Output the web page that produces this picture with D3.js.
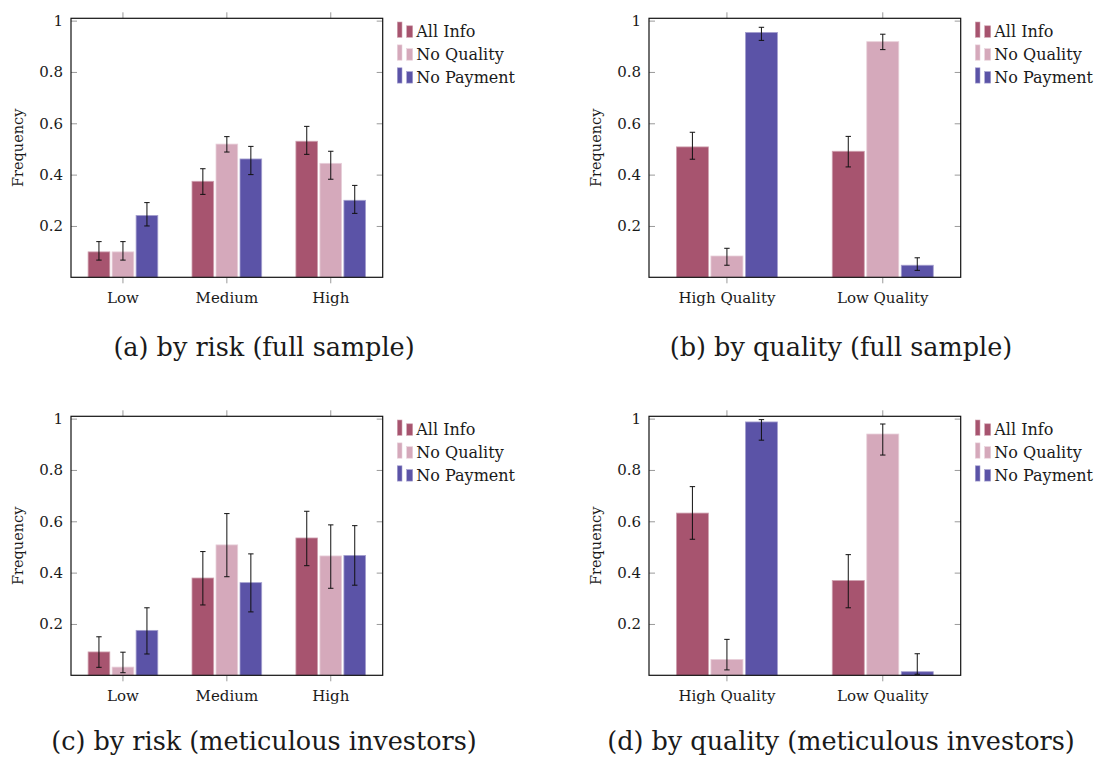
<!DOCTYPE html>
<html>
<head>
<meta charset="utf-8">
<script src="https://cdn.jsdelivr.net/npm/d3@7"></script>
<style>
  body { margin: 0; background: #fff; }
  text { font-family: "DejaVu Serif", serif; fill: #1a1a1a; }
</style>
</head>
<body>
<svg id="chart" width="1097" height="758"></svg>
<script>
const series = ["All Info", "No Quality", "No Payment"];
const seriesColors = ["#a7546f", "#d5a9bb", "#5b53a7"];

const riskCats = ["Low", "Medium", "High"];
const qualityCats = ["High Quality", "Low Quality"];
const yTicks = [0.2, 0.4, 0.6, 0.8, 1];

// rows = categories, columns = All Info / No Quality / No Payment
const riskFullMean = [[0.099, 0.099, 0.241], [0.374, 0.519, 0.461], [0.530, 0.444, 0.300]];
const riskFullLo   = [[0.067, 0.067, 0.200], [0.323, 0.488, 0.400], [0.479, 0.382, 0.249]];
const riskFullHi   = [[0.139, 0.139, 0.291], [0.423, 0.548, 0.510], [0.588, 0.491, 0.358]];

const qualFullMean = [[0.508, 0.083, 0.954], [0.491, 0.918, 0.047]];
const qualFullLo   = [[0.460, 0.047, 0.923], [0.430, 0.887, 0.027]];
const qualFullHi   = [[0.565, 0.113, 0.974], [0.549, 0.947, 0.076]];

const riskMetMean = [[0.091, 0.032, 0.175], [0.379, 0.508, 0.361], [0.535, 0.465, 0.467]];
const riskMetLo   = [[0.031, 0.010, 0.083], [0.274, 0.384, 0.247], [0.427, 0.339, 0.351]];
const riskMetHi   = [[0.150, 0.090, 0.263], [0.482, 0.630, 0.473], [0.639, 0.586, 0.583]];

const qualMetMean = [[0.632, 0.062, 0.987], [0.369, 0.940, 0.014]];
const qualMetLo   = [[0.530, 0.021, 0.916], [0.263, 0.858, 0.004]];
const qualMetHi   = [[0.735, 0.140, 0.996], [0.470, 0.979, 0.084]];

const captions = [
  "(a) by risk (full sample)",
  "(b) by quality (full sample)",
  "(c) by risk (meticulous investors)",
  "(d) by quality (meticulous investors)"
];

// layout of the four panels
const panels = [
  { cats: riskCats, mean: riskFullMean, lo: riskFullLo, hi: riskFullHi, left: 71, top: 18.3, group: 74.3, pad: 0.096, capX: 264, capY: 356 },
  { cats: qualityCats, mean: qualFullMean, lo: qualFullLo, hi: qualFullHi, left: 649, top: 18.3, group: 106, pad: 0.072, capX: 841, capY: 356 },
  { cats: riskCats, mean: riskMetMean, lo: riskMetLo, hi: riskMetHi, left: 71, top: 416.3, group: 74.3, pad: 0.096, capX: 264, capY: 750 },
  { cats: qualityCats, mean: qualMetMean, lo: qualMetLo, hi: qualMetHi, left: 649, top: 416.3, group: 106, pad: 0.072, capX: 841, capY: 750 }
];
panels.forEach((p, i) => { p.caption = captions[i]; });

const plotW = 311.7;
const plotH = 259;
const yMax = 1.009;
const fontSize = 15;
const tickColor = "#9a9a9a";
const lighter = c => d3.interpolateRgb(c, "#ffffff")(0.45);

const svg = d3.select("#chart");

panels.forEach(p => {
  const g = svg.append("g").attr("transform", `translate(${p.left},${p.top})`);

  const x = d3.scaleBand().domain(p.cats).range([0, plotW]);
  const xs = d3.scaleBand().domain(series).range([-p.group / 2, p.group / 2]).padding(p.pad);
  const y = d3.scaleLinear().domain([0, yMax]).range([plotH, 0]);

  // axes: y ticks point inward, x ticks point outward
  const fmt = d3.format("~g");
  const left = g.append("g").call(d3.axisLeft(y).tickValues(yTicks).tickSize(-6).tickPadding(8).tickFormat(fmt));
  const right = g.append("g").attr("transform", `translate(${plotW},0)`)
    .call(d3.axisRight(y).tickValues(yTicks).tickSize(-6).tickFormat(""));
  const top = g.append("g").call(d3.axisTop(x).tickSize(6).tickFormat(""));
  const bottom = g.append("g").attr("transform", `translate(0,${plotH})`)
    .call(d3.axisBottom(x).tickSize(6).tickPadding(9));

  [left, right, top, bottom].forEach(a => {
    a.attr("font-family", null);
    a.select(".domain").remove();
    a.selectAll("line").attr("stroke", tickColor).attr("stroke-width", 1);
    a.selectAll("text").attr("font-size", fontSize).attr("fill", "#1a1a1a");
  });

  // bars
  const rows = p.cats.map((c, ci) => series.map((s, si) => ({
    cat: c, s, si, v: p.mean[ci][si], lo: p.lo[ci][si], hi: p.hi[ci][si]
  }))).flat();

  const cx = d => x(d.cat) + x.bandwidth() / 2 + xs(d.s);

  g.selectAll("rect.bar")
    .data(rows)
    .enter()
    .append("rect")
    .attr("class", "bar")
    .attr("x", d => cx(d))
    .attr("y", d => y(d.v))
    .attr("width", xs.bandwidth())
    .attr("height", d => plotH - y(d.v))
    .attr("fill", d => seriesColors[d.si])
    .attr("stroke", d => lighter(seriesColors[d.si]))
    .attr("stroke-width", 0.8);

  // error bars
  const err = g.selectAll("g.err").data(rows).enter().append("g").attr("class", "err")
    .attr("stroke", "#111").attr("stroke-width", 1);
  err.append("line")
    .attr("x1", d => cx(d) + xs.bandwidth() / 2).attr("x2", d => cx(d) + xs.bandwidth() / 2)
    .attr("y1", d => y(d.lo)).attr("y2", d => y(d.hi));
  err.append("line")
    .attr("x1", d => cx(d) + xs.bandwidth() / 2 - 2.7).attr("x2", d => cx(d) + xs.bandwidth() / 2 + 2.7)
    .attr("y1", d => y(d.hi)).attr("y2", d => y(d.hi));
  err.append("line")
    .attr("x1", d => cx(d) + xs.bandwidth() / 2 - 2.7).attr("x2", d => cx(d) + xs.bandwidth() / 2 + 2.7)
    .attr("y1", d => y(d.lo)).attr("y2", d => y(d.lo));

  // frame
  g.append("rect")
    .attr("width", plotW).attr("height", plotH)
    .attr("fill", "none").attr("stroke", "#111").attr("stroke-width", 1.2);

  // y label
  g.append("text")
    .attr("transform", `translate(-48.3,${plotH / 2}) rotate(-90)`)
    .attr("text-anchor", "middle")
    .attr("font-size", 14.5)
    .text("Frequency");

  // legend
  const leg = g.append("g").attr("transform", `translate(${plotW + 14.6},0)`);
  series.forEach((s, i) => {
    const base = 19 + i * 22.9;
    const row = leg.append("g");
    row.append("rect").attr("x", 0).attr("y", base - 15.3).attr("width", 4.7).attr("height", 15.3)
      .attr("fill", seriesColors[i]).attr("stroke", lighter(seriesColors[i])).attr("stroke-width", 0.6);
    row.append("rect").attr("x", 9.4).attr("y", base - 11.5).attr("width", 6).attr("height", 11.5)
      .attr("fill", seriesColors[i]).attr("stroke", lighter(seriesColors[i])).attr("stroke-width", 0.6);
    row.append("text").attr("x", 19).attr("y", base).attr("font-size", 16).text(s);
  });

  // caption
  svg.append("text")
    .attr("x", p.capX).attr("y", p.capY)
    .attr("text-anchor", "middle")
    .attr("font-size", 25.5)
    .text(p.caption);
});
</script>
</body>
</html>
